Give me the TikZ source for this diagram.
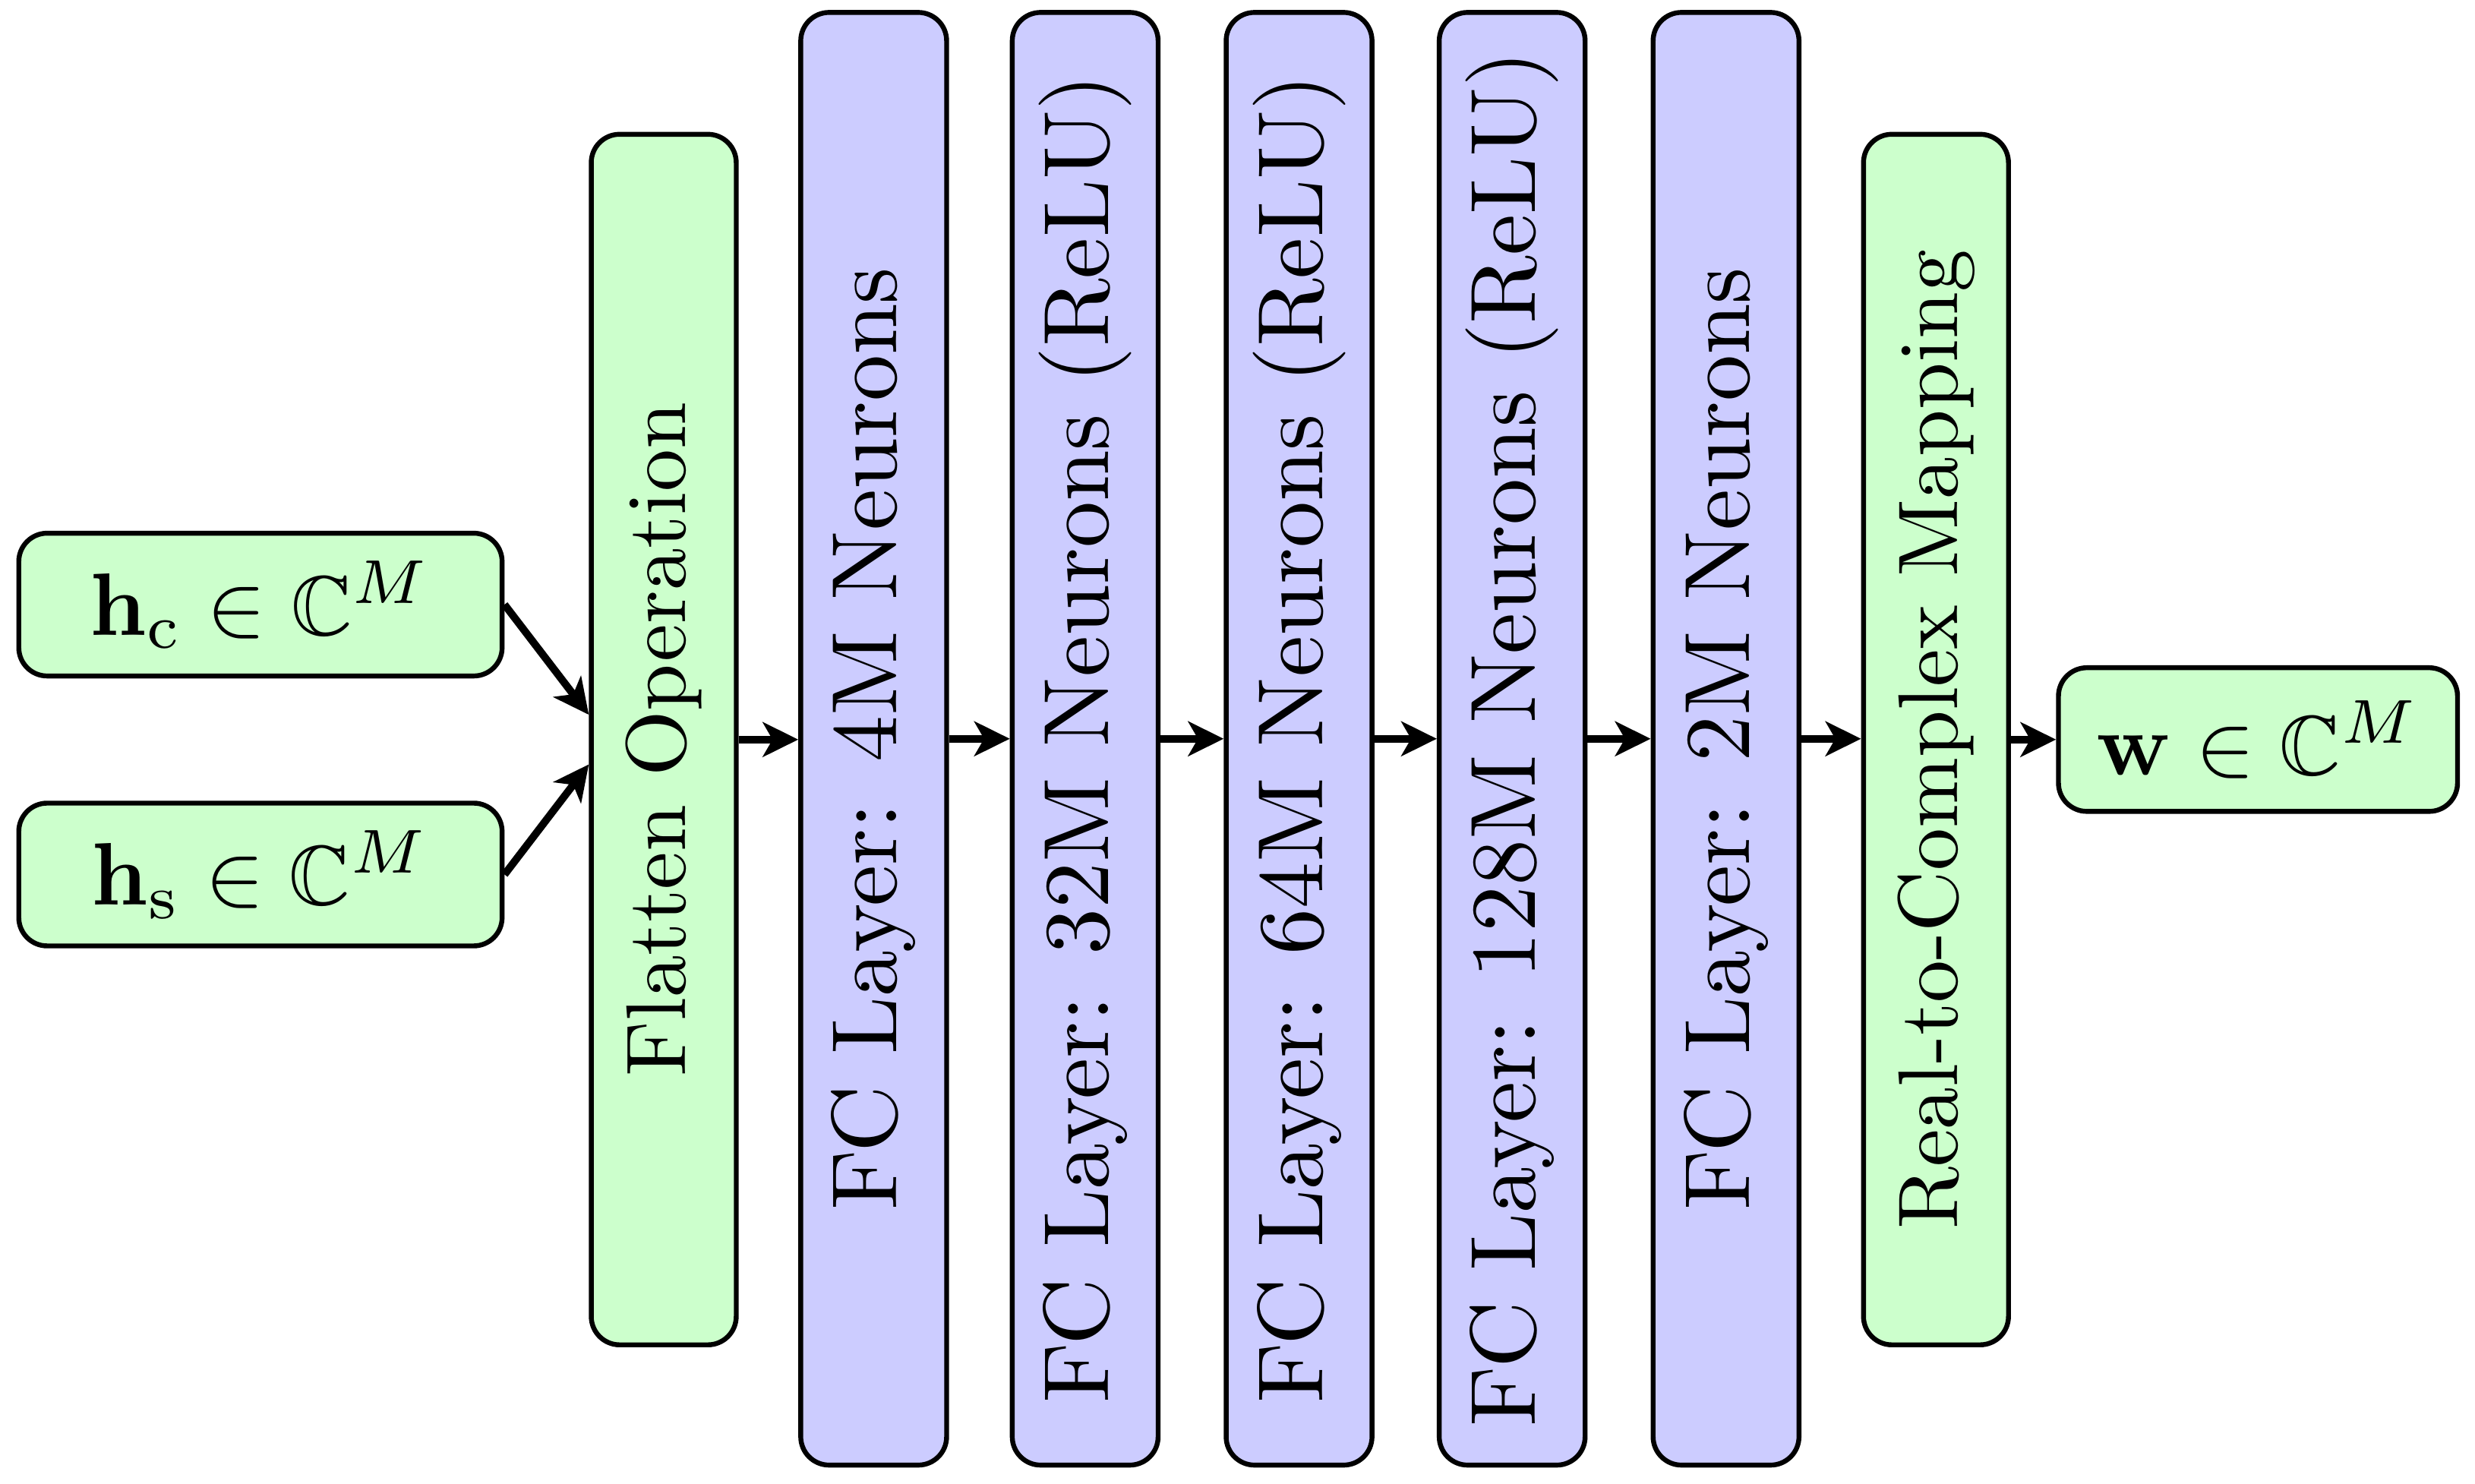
\documentclass[tikz,border=0pt]{standalone}
\usepackage{amssymb}
\usetikzlibrary{arrows.meta}
\begin{document}
\begin{tikzpicture}[x=0.178pt,y=-0.178pt,
  box/.style={draw, line width=0.55pt, rounded corners=3.2pt, inner sep=0pt},
  gbox/.style={box, fill=green!20, font=\fontsize{9.55}{11.5}\selectfont},
  bbox/.style={box, fill=blue!20, font=\fontsize{10.45}{12.5}\selectfont},
  tall/.style={minimum width=16.45pt, minimum height=163.8pt},
  mid/.style={minimum width=16.35pt, minimum height=136.5pt},
  arr/.style={-{Stealth[length=4pt,width=3.9pt,inset=1.1pt]}, line width=0.85pt}]
\useasboundingbox (0,0) rectangle (1568,940);
\node[gbox, minimum width=54.5pt, minimum height=16.1pt] (hc) at (165,383) {$\mathbf{h}_{\mathrm{c}} \in \mathbb{C}^M$};
\node[gbox, minimum width=54.5pt, minimum height=16.1pt] (hs) at (165,554) {$\mathbf{h}_{\mathrm{s}} \in \mathbb{C}^M$};
\node[gbox, mid] (fl) at (420.5,468.5) {\rotatebox{90}{Flatten Operation}};
\node[bbox, tall] (fc1) at (553.5,468) {\rotatebox{90}{FC Layer: 4M Neurons}};
\node[bbox, tall] (fc2) at (687.5,468) {\rotatebox{90}{FC Layer: 32M Neurons (ReLU)}};
\node[bbox, tall] (fc3) at (823,468) {\rotatebox{90}{FC Layer: 64M Neurons (ReLU)}};
\node[bbox, tall] (fc4) at (958,468) {\rotatebox{90}{FC Layer: 128M Neurons (ReLU)}};
\node[bbox, tall] (fc5) at (1093.5,468) {\rotatebox{90}{FC Layer: 2M Neurons}};
\node[gbox, mid] (rc) at (1226.5,468.5) {\rotatebox{90}{Real-to-Complex Mapping}};
\node[gbox, minimum width=45pt, minimum height=16.2pt] (w) at (1430.5,468.5) {$\mathbf{w} \in \mathbb{C}^M$};
\draw[arr] (hc.east) -- ([yshift=2.8pt]fl.west);
\draw[arr] (hs.east) -- ([yshift=-2.8pt]fl.west);
\draw[arr] (fl.east) -- (fl.east -| fc1.west);
\draw[arr] (fc1.east) -- (fc2.west);
\draw[arr] (fc2.east) -- (fc3.west);
\draw[arr] (fc3.east) -- (fc4.west);
\draw[arr] (fc4.east) -- (fc5.west);
\draw[arr] (fc5.east) -- (fc5.east -| rc.west);
\draw[arr] (rc.east) -- (w.west);
\end{tikzpicture}
\end{document}
